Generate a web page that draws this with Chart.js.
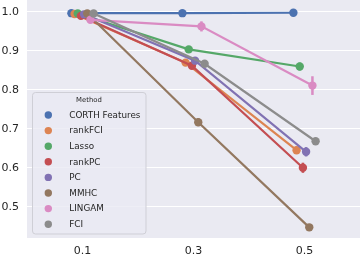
<!DOCTYPE html>
<html><head><meta charset="utf-8">
<script src="https://cdn.jsdelivr.net/npm/chart.js@4.4.0/dist/chart.umd.min.js"></script>
<style>html,body{margin:0;padding:0;background:#fff}canvas{display:block}</style>
</head><body>
<canvas id="c" width="360" height="259"></canvas>
<script>
// ---- data ----
const categories = ["0.1", "0.3", "0.5"];
const methods = ["CORTH Features", "rankFCI", "Lasso", "rankPC", "PC", "MMHC", "LINGAM", "FCI"];
const corth   = [0.997, 0.997, 0.998];
const rankFCI = [0.995, 0.870, 0.645];
const lasso   = [0.996, 0.904, 0.860];
const rankPC  = [0.990, 0.862, 0.600];
const pc      = [0.994, 0.875, 0.641];
const mmhc    = [0.996, 0.717, 0.447];
const lingam  = [0.980, 0.963, 0.811];
const fci     = [0.996, 0.867, 0.668];
// half-widths of the confidence intervals
const corthErr   = [0.001, 0.001, 0.001];
const rankFCIErr = [0.002, 0.004, 0.009];
const lassoErr   = [0.002, 0.005, 0.010];
const rankPCErr  = [0.003, 0.006, 0.013];
const pcErr      = [0.002, 0.006, 0.012];
const mmhcErr    = [0.002, 0.010, 0.005];
const lingamErr  = [0.004, 0.013, 0.024];
const fciErr     = [0.002, 0.006, 0.008];
const yTicks = [0.5, 0.6, 0.7, 0.8, 0.9, 1.0];

// ---- styling ----
const colors = ["#4C72B0", "#DD8452", "#55A868", "#C44E52", "#8172B3", "#937860", "#DA8BC3", "#8C8C8C"];
const series = [corth, rankFCI, lasso, rankPC, pc, mmhc, lingam, fci];
const errs = [corthErr, rankFCIErr, lassoErr, rankPCErr, pcErr, mmhcErr, lingamErr, fciErr];
const FONT = "'DejaVu Sans', sans-serif";
const TXT = "#262626";
const dodge = 0.2;
const n = methods.length;

const datasets = methods.map((m, i) => {
  const off = -dodge / 2 + dodge * i / (n - 1);
  return {
    label: m,
    data: series[i].map((v, j) => ({ x: j + off, y: v })),
    errs: errs[i],
    borderColor: colors[i],
    backgroundColor: colors[i],
    pointBackgroundColor: colors[i],
    pointBorderWidth: 0,
    pointRadius: 4.2,
    borderWidth: 2.2,
    tension: 0,
    order: n - 1 - i
  };
});

const bgPlugin = {
  id: 'bg',
  beforeDraw(chart) {
    const { ctx, chartArea: a } = chart;
    ctx.save();
    ctx.fillStyle = '#EAEAF2';
    ctx.fillRect(a.left, a.top, a.right - a.left, a.bottom - a.top);
    ctx.restore();
  }
};

const errPlugin = {
  id: 'errbars',
  afterDatasetDraw(chart, args) {
    const ds = chart.data.datasets[args.index];
    const ys = chart.scales.y;
    const ctx = chart.ctx;
    ctx.save();
    ctx.strokeStyle = ds.borderColor;
    ctx.lineWidth = 2.5;
    args.meta.data.forEach((pt, j) => {
      const v = ds.data[j].y, e = ds.errs[j];
      ctx.beginPath();
      ctx.moveTo(pt.x, ys.getPixelForValue(v - e));
      ctx.lineTo(pt.x, ys.getPixelForValue(v + e));
      ctx.stroke();
    });
    ctx.restore();
  }
};

const legendPlugin = {
  id: 'boxlegend',
  afterDraw(chart) {
    const ctx = chart.ctx;
    const L = 32.5, T = 92.5, R = 146, B = 234;
    ctx.save();
    ctx.beginPath();
    if (ctx.roundRect) ctx.roundRect(L, T, R - L, B - T, 3); else ctx.rect(L, T, R - L, B - T);
    ctx.fillStyle = 'rgba(234,234,242,0.8)';
    ctx.fill();
    ctx.strokeStyle = '#CFCFD6';
    ctx.lineWidth = 1;
    ctx.stroke();
    ctx.fillStyle = TXT;
    ctx.textBaseline = 'middle';
    ctx.textAlign = 'center';
    ctx.font = "6.9px " + FONT;
    ctx.fillText("Method", 89, 100);
    ctx.textAlign = 'left';
    ctx.font = "8.8px " + FONT;
    chart.data.datasets.forEach((ds, i) => {
      const y = 115 + i * 15.6;
      ctx.beginPath();
      ctx.arc(48.3, y, 3.7, 0, Math.PI * 2);
      ctx.fillStyle = ds.borderColor;
      ctx.fill();
      ctx.fillStyle = TXT;
      ctx.fillText(ds.label, 69.3, y + 0.5);
    });
    ctx.restore();
  }
};

new Chart(document.getElementById('c'), {
  type: 'line',
  data: { datasets },
  plugins: [bgPlugin, errPlugin, legendPlugin],
  options: {
    responsive: false,
    animation: false,
    devicePixelRatio: 1,
    layout: { padding: 0, autoPadding: false },
    plugins: { legend: { display: false }, tooltip: { enabled: false } },
    scales: {
      x: {
        type: 'linear', min: -0.5, max: 2.5,
        afterBuildTicks(s) { s.ticks = categories.map((c, i) => ({ value: i })); },
        afterFit(s) { s.height = 21; s.paddingLeft = 0; s.paddingRight = 0; },
        ticks: {
          callback: (v) => categories[v],
          font: { family: FONT, size: 11 }, color: TXT, padding: 7, maxRotation: 0
        },
        grid: { display: false, drawTicks: false },
        border: { display: false }
      },
      y: {
        min: 0.4196, max: 1.0308,
        afterBuildTicks(s) { s.ticks = yTicks.map(v => ({ value: v })); },
        afterFit(s) { s.width = 27; s.paddingTop = 0; s.paddingBottom = 0; },
        ticks: {
          callback: (v) => v.toFixed(1),
          font: { family: FONT, size: 11 }, color: TXT, padding: 8
        },
        grid: { color: '#FFFFFF', lineWidth: 1.1, drawTicks: false },
        border: { display: false }
      }
    }
  }
});
</script>
</body></html>
